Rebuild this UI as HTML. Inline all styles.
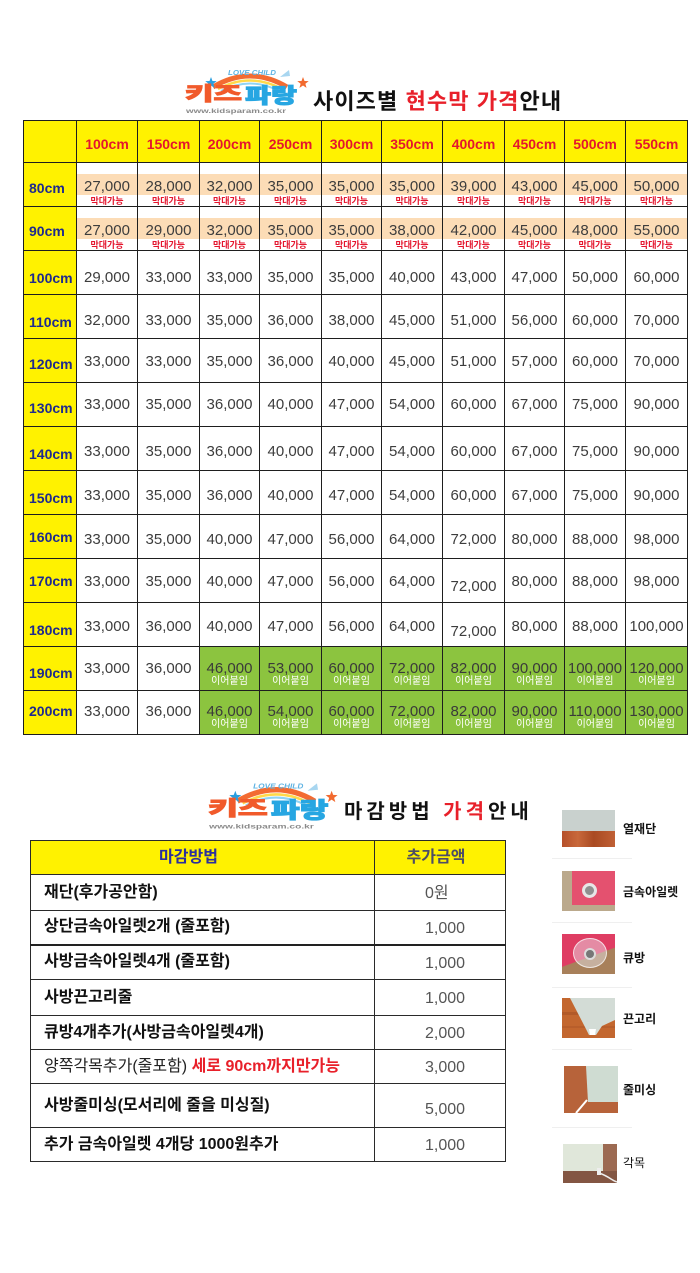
<!DOCTYPE html>
<html><head><meta charset="utf-8">
<style>
*{box-sizing:border-box}
html,body{margin:0;padding:0}
body{width:700px;height:1273px;background:#fff;position:relative;overflow:hidden;font-family:"Liberation Sans","Noto Sans CJK KR",sans-serif}
.a{position:absolute}
#t1{position:absolute;left:23px;top:120px;border-collapse:collapse;table-layout:fixed;width:665px}
#t1 td{border:1px solid #1e1e1e;padding:var(--p,17px) 0 0 0;vertical-align:top;text-align:center;white-space:nowrap;font-size:15px;line-height:15px;color:#3d3d3d;overflow:visible}
#t1 tr{height:44px}
#t1 tr.h{height:42px}
#t1 tr.h td{background:#fff200;color:#e4162e;font-weight:bold;font-size:14px;line-height:14px;padding-top:16px}
#t1 td.l{background:#fff200;color:#1e2a8e;font-weight:bold;font-size:14px;line-height:14px;text-align:left;padding-left:5px;padding-top:var(--l,18px)}
.b{background:#fcdcb6;height:21px;padding-top:5px;line-height:15px}
.s{font-size:9px;line-height:10px;color:#e4162e;font-weight:bold;margin-top:1px}
#t1 td.g{background:#8cc43f;color:#3a3a3a}
.w{font-size:10px;line-height:10px;color:#fff;margin-top:1px}
.dn{position:relative;top:5px}
#t2{position:absolute;left:30px;top:840px;border-collapse:collapse;table-layout:fixed;width:475px}
#t2 td{border:1px solid #2a2a2a;padding:0;vertical-align:middle;white-space:nowrap;font-size:16px;line-height:18px}
#t2 td.k{padding-left:13px;font-weight:bold;color:#111}
#t2 td.v{padding-left:50px;padding-top:3px;color:#555}
#t2 tr.hd td{background:#fff200;font-weight:bold;text-align:center}
.title{position:absolute;font-weight:bold;color:#111;white-space:nowrap;line-height:22px}
.red{color:#e8202a}
.lab{position:absolute;left:623px;font-size:12px;line-height:14px;font-weight:bold;color:#111;white-space:nowrap}
.sep{position:absolute;left:552px;width:80px;height:1px;background:#efefef}
</style></head><body>

<!-- Logo 1 -->
<svg class="a" style="left:183px;top:66px" width="128" height="54" viewBox="0 0 128 54">
<path d="M30 21 Q67 -1 104 21" fill="none" stroke="#f36b32" stroke-width="5"/>
<path d="M35 23 Q67 6 99 23" fill="none" stroke="#ffd94a" stroke-width="2.5"/>
<path d="M38 25 Q67 10 96 25" fill="none" stroke="#8fd3f4" stroke-width="2"/>
<text x="45" y="9" style="font-family:'Liberation Sans',sans-serif" font-size="7" font-weight="bold" font-style="italic" fill="#5fb3e3" textLength="48" lengthAdjust="spacingAndGlyphs">LOVE CHILD</text>
<path d="M97 11 l9 -7 l1 6 z" fill="#a8d6f0"/>
<polygon transform="translate(28,17)" fill="#2a9fe0" points="0,-6 1.47,-2.02 5.71,-1.85 2.38,0.77 3.53,4.85 0,2.5 -3.53,4.85 -2.38,0.77 -5.71,-1.85 -1.47,-2.02"/>
<polygon transform="translate(120,17)" fill="#f26a2f" points="0,-6 1.47,-2.02 5.71,-1.85 2.38,0.77 3.53,4.85 0,2.5 -3.53,4.85 -2.38,0.77 -5.71,-1.85 -1.47,-2.02"/>
<text x="2" y="34" style="font-family:'Liberation Sans','Noto Sans CJK KR',sans-serif" font-size="19" font-weight="900" fill="#f15a2b" stroke="#f15a2b" stroke-width="0.9" textLength="57" lengthAdjust="spacingAndGlyphs">키즈</text>
<text x="62" y="37" style="font-family:'Liberation Sans','Noto Sans CJK KR',sans-serif" font-size="21" font-weight="900" fill="#27a6e2" stroke="#27a6e2" stroke-width="0.9" textLength="52" lengthAdjust="spacingAndGlyphs">파랑</text>
<text x="3" y="47" style="font-family:'Liberation Sans',sans-serif" font-size="6.5" font-weight="bold" fill="#8a8a8a" textLength="100" lengthAdjust="spacingAndGlyphs">www.kidsparam.co.kr</text>
</svg>
<div class="title" style="left:313px;top:91px;font-size:22px;letter-spacing:1.1px">사이즈별 <span class="red">현수막 가격</span>안내</div>

<table id="t1">
<colgroup><col style="width:53px"><col style="width:61px"><col style="width:62px"><col style="width:60px"><col style="width:62px"><col style="width:60px"><col style="width:61px"><col style="width:62px"><col style="width:60px"><col style="width:61px"><col style="width:62px"></colgroup>
<tr class="h"><td></td><td>100cm</td><td>150cm</td><td>200cm</td><td>250cm</td><td>300cm</td><td>350cm</td><td>400cm</td><td>450cm</td><td>500cm</td><td>550cm</td></tr>
<tr style="--p:11px;--l:18px"><td class="l">80cm</td>
<td><div class="b">27,000</div><div class="s">막대가능</div></td>
<td><div class="b">28,000</div><div class="s">막대가능</div></td>
<td><div class="b">32,000</div><div class="s">막대가능</div></td>
<td><div class="b">35,000</div><div class="s">막대가능</div></td>
<td><div class="b">35,000</div><div class="s">막대가능</div></td>
<td><div class="b">35,000</div><div class="s">막대가능</div></td>
<td><div class="b">39,000</div><div class="s">막대가능</div></td>
<td><div class="b">43,000</div><div class="s">막대가능</div></td>
<td><div class="b">45,000</div><div class="s">막대가능</div></td>
<td><div class="b">50,000</div><div class="s">막대가능</div></td></tr>
<tr style="--p:11px;--l:17px"><td class="l">90cm</td>
<td><div class="b">27,000</div><div class="s">막대가능</div></td>
<td><div class="b">29,000</div><div class="s">막대가능</div></td>
<td><div class="b">32,000</div><div class="s">막대가능</div></td>
<td><div class="b">35,000</div><div class="s">막대가능</div></td>
<td><div class="b">35,000</div><div class="s">막대가능</div></td>
<td><div class="b">38,000</div><div class="s">막대가능</div></td>
<td><div class="b">42,000</div><div class="s">막대가능</div></td>
<td><div class="b">45,000</div><div class="s">막대가능</div></td>
<td><div class="b">48,000</div><div class="s">막대가능</div></td>
<td><div class="b">55,000</div><div class="s">막대가능</div></td></tr>
<tr style="--p:19px;--l:20px"><td class="l">100cm</td><td>29,000</td><td>33,000</td><td>33,000</td><td>35,000</td><td>35,000</td><td>40,000</td><td>43,000</td><td>47,000</td><td>50,000</td><td>60,000</td></tr>
<tr style="--p:18px;--l:20px"><td class="l">110cm</td><td>32,000</td><td>33,000</td><td>35,000</td><td>36,000</td><td>38,000</td><td>45,000</td><td>51,000</td><td>56,000</td><td>60,000</td><td>70,000</td></tr>
<tr style="--p:15px;--l:18px"><td class="l">120cm</td><td>33,000</td><td>33,000</td><td>35,000</td><td>36,000</td><td>40,000</td><td>45,000</td><td>51,000</td><td>57,000</td><td>60,000</td><td>70,000</td></tr>
<tr style="--p:14px;--l:18px"><td class="l">130cm</td><td>33,000</td><td>35,000</td><td>36,000</td><td>40,000</td><td>47,000</td><td>54,000</td><td>60,000</td><td>67,000</td><td>75,000</td><td>90,000</td></tr>
<tr style="--p:17px;--l:20px"><td class="l">140cm</td><td>33,000</td><td>35,000</td><td>36,000</td><td>40,000</td><td>47,000</td><td>54,000</td><td>60,000</td><td>67,000</td><td>75,000</td><td>90,000</td></tr>
<tr style="--p:17px;--l:20px"><td class="l">150cm</td><td>33,000</td><td>35,000</td><td>36,000</td><td>40,000</td><td>47,000</td><td>54,000</td><td>60,000</td><td>67,000</td><td>75,000</td><td>90,000</td></tr>
<tr style="--p:17px;--l:15px"><td class="l">160cm</td><td>33,000</td><td>35,000</td><td>40,000</td><td>47,000</td><td>56,000</td><td>64,000</td><td>72,000</td><td>80,000</td><td>88,000</td><td>98,000</td></tr>
<tr style="--p:15px;--l:15px"><td class="l">170cm</td><td>33,000</td><td>35,000</td><td>40,000</td><td>47,000</td><td>56,000</td><td>64,000</td><td><span class="dn">72,000</span></td><td>80,000</td><td>88,000</td><td>98,000</td></tr>
<tr style="--p:16px;--l:20px"><td class="l">180cm</td><td>33,000</td><td>36,000</td><td>40,000</td><td>47,000</td><td>56,000</td><td>64,000</td><td><span class="dn">72,000</span></td><td>80,000</td><td>88,000</td><td>100,000</td></tr>
<tr style="--p:14px;--l:19px"><td class="l">190cm</td><td>33,000</td><td>36,000</td>
<td class="g"><div>46,000</div><div class="w">이어붙임</div></td>
<td class="g"><div>53,000</div><div class="w">이어붙임</div></td>
<td class="g"><div>60,000</div><div class="w">이어붙임</div></td>
<td class="g"><div>72,000</div><div class="w">이어붙임</div></td>
<td class="g"><div>82,000</div><div class="w">이어붙임</div></td>
<td class="g"><div>90,000</div><div class="w">이어붙임</div></td>
<td class="g"><div>100,000</div><div class="w">이어붙임</div></td>
<td class="g"><div>120,000</div><div class="w">이어붙임</div></td></tr>
<tr style="--p:13px;--l:13px"><td class="l">200cm</td><td>33,000</td><td>36,000</td>
<td class="g"><div>46,000</div><div class="w">이어붙임</div></td>
<td class="g"><div>54,000</div><div class="w">이어붙임</div></td>
<td class="g"><div>60,000</div><div class="w">이어붙임</div></td>
<td class="g"><div>72,000</div><div class="w">이어붙임</div></td>
<td class="g"><div>82,000</div><div class="w">이어붙임</div></td>
<td class="g"><div>90,000</div><div class="w">이어붙임</div></td>
<td class="g"><div>110,000</div><div class="w">이어붙임</div></td>
<td class="g"><div>130,000</div><div class="w">이어붙임</div></td></tr>
</table>

<!-- Logo 2 -->
<svg class="a" style="left:206px;top:779px" width="134" height="57" viewBox="0 0 128 54">
<path d="M30 21 Q67 -1 104 21" fill="none" stroke="#f36b32" stroke-width="5"/>
<path d="M35 23 Q67 6 99 23" fill="none" stroke="#ffd94a" stroke-width="2.5"/>
<path d="M38 25 Q67 10 96 25" fill="none" stroke="#8fd3f4" stroke-width="2"/>
<text x="45" y="9" style="font-family:'Liberation Sans',sans-serif" font-size="7" font-weight="bold" font-style="italic" fill="#5fb3e3" textLength="48" lengthAdjust="spacingAndGlyphs">LOVE CHILD</text>
<path d="M97 11 l9 -7 l1 6 z" fill="#a8d6f0"/>
<polygon transform="translate(28,17)" fill="#2a9fe0" points="0,-6 1.47,-2.02 5.71,-1.85 2.38,0.77 3.53,4.85 0,2.5 -3.53,4.85 -2.38,0.77 -5.71,-1.85 -1.47,-2.02"/>
<polygon transform="translate(120,17)" fill="#f26a2f" points="0,-6 1.47,-2.02 5.71,-1.85 2.38,0.77 3.53,4.85 0,2.5 -3.53,4.85 -2.38,0.77 -5.71,-1.85 -1.47,-2.02"/>
<text x="2" y="34" style="font-family:'Liberation Sans','Noto Sans CJK KR',sans-serif" font-size="19" font-weight="900" fill="#f15a2b" stroke="#f15a2b" stroke-width="0.9" textLength="57" lengthAdjust="spacingAndGlyphs">키즈</text>
<text x="62" y="37" style="font-family:'Liberation Sans','Noto Sans CJK KR',sans-serif" font-size="21" font-weight="900" fill="#27a6e2" stroke="#27a6e2" stroke-width="0.9" textLength="55" lengthAdjust="spacingAndGlyphs">파랑</text>
<text x="3" y="47" style="font-family:'Liberation Sans',sans-serif" font-size="6.5" font-weight="bold" fill="#8a8a8a" textLength="100" lengthAdjust="spacingAndGlyphs">www.kidsparam.co.kr</text>
</svg>
<div class="title" style="left:344px;top:801px;font-size:20px;letter-spacing:4px">마감방법 <span class="red">가격</span>안내</div>

<table id="t2">
<colgroup><col style="width:344px"><col style="width:131px"></colgroup>
<tr class="hd" style="height:34px"><td style="color:#2b2f9e;padding-right:28px">마감방법</td><td style="color:#4d4d66;padding-right:8px">추가금액</td></tr>
<tr style="height:36px"><td class="k">재단(후가공안함)</td><td class="v">0원</td></tr>
<tr style="height:34px"><td class="k">상단금속아일렛2개 (줄포함)</td><td class="v">1,000</td></tr>
<tr style="height:35px"><td class="k" style="border-top:2px solid #222">사방금속아일렛4개 (줄포함)</td><td class="v" style="border-top:2px solid #222">1,000</td></tr>
<tr style="height:36px"><td class="k">사방끈고리줄</td><td class="v">1,000</td></tr>
<tr style="height:34px"><td class="k">큐방4개추가(사방금속아일렛4개)</td><td class="v">2,000</td></tr>
<tr style="height:34px"><td class="k" style="font-weight:normal;color:#222">양쪽각목추가(줄포함) <b class="red">세로 90cm까지만가능</b></td><td class="v">3,000</td></tr>
<tr style="height:44px"><td class="k">사방줄미싱(모서리에 줄을 미싱질)</td><td class="v" style="padding-top:8px">5,000</td></tr>
<tr style="height:34px"><td class="k">추가 금속아일렛 4개당 1000원추가</td><td class="v">1,000</td></tr>
</table>

<!-- right side images -->
<div class="a" style="left:562px;top:810px;width:53px;height:21px;background:#c9d1ce"></div>
<div class="a" style="left:562px;top:831px;width:53px;height:16px;background:linear-gradient(90deg,#b5502a,#c8683a 30%,#a94a22 60%,#c06035)"></div>
<div class="lab" style="top:822px">열재단</div>
<div class="sep" style="top:858px"></div>

<div class="a" style="left:562px;top:871px;width:53px;height:40px;background:#bba98c"></div>
<div class="a" style="left:572px;top:871px;width:43px;height:34px;background:#e4516f"></div>
<div class="a" style="left:582px;top:883px;width:15px;height:15px;border-radius:50%;background:#8f8f8f;border:3px solid #e6e6e6"></div>
<div class="lab" style="top:885px">금속아일렛</div>
<div class="sep" style="top:922px"></div>

<div class="a" style="left:562px;top:934px;width:53px;height:40px;background:linear-gradient(160deg,#df3d63 55%,#a8805a 56%)"></div>
<div class="a" style="left:573px;top:938px;width:34px;height:30px;border-radius:50%;background:rgba(235,235,245,0.45);border:1px solid rgba(255,255,255,0.7)"></div>
<div class="a" style="left:584px;top:948px;width:12px;height:12px;border-radius:50%;background:#777;border:2px solid #ddd"></div>
<div class="lab" style="top:951px">큐방</div>
<div class="sep" style="top:987px"></div>

<svg class="a" style="left:562px;top:998px" width="53" height="40" viewBox="0 0 53 40">
<rect width="53" height="40" fill="#c3672f"/>
<rect x="0" y="14" width="53" height="3" fill="#b25a28"/>
<rect x="0" y="28" width="53" height="2" fill="#b85e2b"/>
<polygon points="8,0 53,0 53,22 40,28 34,37 27,37 24,31" fill="#d3dcd6"/>
<polygon points="27,31 34,31 33,37 28,37" fill="#fff"/>
</svg>
<div class="lab" style="top:1012px">끈고리</div>
<div class="sep" style="top:1049px"></div>

<svg class="a" style="left:564px;top:1066px" width="54" height="47" viewBox="0 0 54 47">
<rect width="54" height="47" fill="#b7633a"/>
<polygon points="22,0 54,0 54,36 24,36" fill="#cfdcd2"/>
<line x1="23" y1="34" x2="12" y2="47" stroke="#fff" stroke-width="2"/>
</svg>
<div class="lab" style="top:1083px">줄미싱</div>
<div class="sep" style="top:1127px"></div>

<svg class="a" style="left:563px;top:1144px" width="54" height="39" viewBox="0 0 54 39">
<rect width="54" height="39" fill="#835643"/>
<rect x="0" y="0" width="40" height="27" fill="#e0e7da"/>
<rect x="40" y="0" width="14" height="27" fill="#9c6a52"/>
<path d="M36 29 q6 2 12 6 q3 2 6 3" fill="none" stroke="#eee" stroke-width="1.5"/>
<rect x="34" y="24" width="4" height="7" fill="#eee"/>
</svg>
<div class="lab" style="top:1156px;font-weight:normal">각목</div>

</body></html>
